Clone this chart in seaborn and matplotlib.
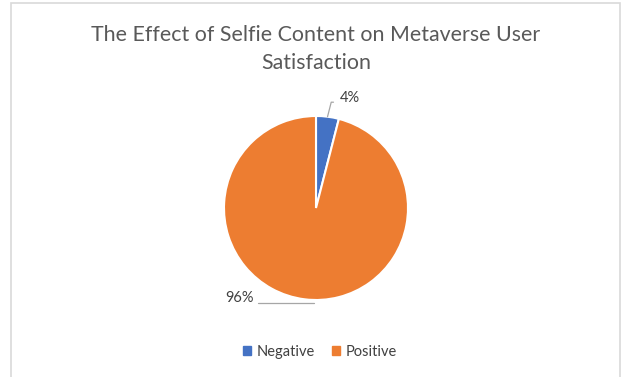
import matplotlib
matplotlib.use("Agg")
import matplotlib.pyplot as plt
import seaborn as sns
import numpy as np
from matplotlib.patches import Rectangle

categories = ["Negative", "Positive"]
values = [4, 96]
labels = ["4%", "96%"]
colors = ["#4472C4", "#ED7D31"]
title = "The Effect of Selfie Content on Metaverse User\nSatisfaction"

sns.set_style("white")
plt.rcParams['font.family'] = ['Lato', 'DejaVu Sans']

W, H = 621, 377
fig = plt.figure(figsize=(W / 100, H / 100), dpi=100)

# chart frame
fig.patches.append(Rectangle((11 / W, -0.01), (620 - 11) / W, (H - 3) / H + 0.01,
                             transform=fig.transFigure, fill=False,
                             edgecolor="#d9d9d9", linewidth=1.2))

cx, cy, r = 316, 208, 92
ax = fig.add_axes([(cx - r) / W, (H - cy - r) / H, 2 * r / W, 2 * r / H])
wedges, _ = ax.pie(values, colors=colors, startangle=90, counterclock=False,
                   radius=1, wedgeprops=dict(edgecolor="white", linewidth=1.5))
ax.set_xlim(-1, 1)
ax.set_ylim(-1, 1)
ax.set_aspect("auto")
ax.axis("off")

# data labels with leader lines
label_pos = [(0.37, 1.20), (-0.83, -0.98)]
for w, lab, (tx, ty) in zip(wedges, labels, label_pos):
    ang = np.deg2rad((w.theta1 + w.theta2) / 2)
    ex, ey = np.cos(ang), np.sin(ang)
    if tx > 0:
        ax.plot([ex, ex + 0.04, tx - 0.18], [ey, ty - 0.05, ty - 0.05],
                color="#a6a6a6", lw=0.9, clip_on=False)
    else:
        ax.plot([ex + 0.1, tx + 0.2], [ey - 0.04, ey - 0.04],
                color="#a6a6a6", lw=0.9, clip_on=False)
    ax.text(tx, ty, lab, ha="center", va="center", fontsize=10.5, color="#404040")

fig.text(316 / W, 1 - 49 / H, title, ha="center", va="center", fontsize=15.4,
         color="#595959", linespacing=1.45)

handles = [Rectangle((0, 0), 1, 1, color=c) for c in colors]
fig.legend(handles, categories, loc="center", bbox_to_anchor=(320 / W, 1 - 352 / H),
           ncol=2, frameon=False, fontsize=10.5, handlelength=0.55, handleheight=0.55,
           handletextpad=0.4, columnspacing=1.2, labelcolor="#404040")

fig.savefig("out.png", dpi=100, facecolor="white")
